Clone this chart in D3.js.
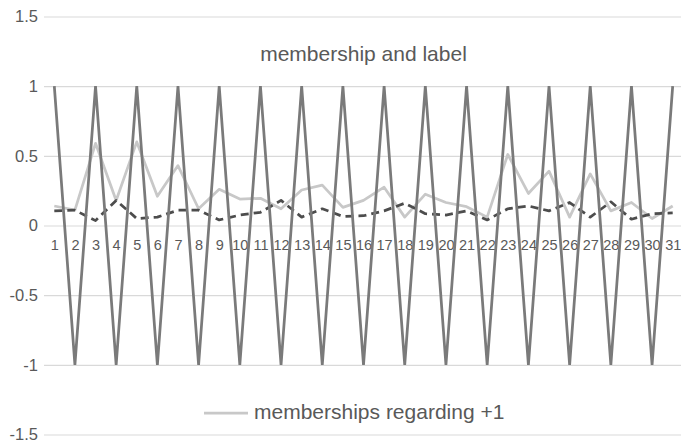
<!DOCTYPE html>
<html>
<head>
<meta charset="utf-8">
<script src="https://cdn.jsdelivr.net/npm/d3@7"></script>
<style>
  html, body { margin: 0; padding: 0; background: #fff; }
  svg { display: block; font-family: "Liberation Sans", Arial, sans-serif; }
</style>
</head>
<body>
<svg id="chart" width="681" height="443"></svg>
<script>
// Sample indices 1..31
const categories = d3.range(1, 32).map(String);

// Class label of each sample (+1 / -1)
const labelValues = [1, -1, 1, -1, 1, -1, 1, -1, 1, -1, 1, -1, 1, -1, 1, -1,
                     1, -1, 1, -1, 1, -1, 1, -1, 1, -1, 1, -1, 1, -1, 1];

// Membership degree with respect to class +1
const membershipPos = [0.14, 0.11, 0.59, 0.18, 0.60, 0.21, 0.43, 0.12, 0.26, 0.19,
                       0.195, 0.12, 0.255, 0.29, 0.13, 0.18, 0.275, 0.06, 0.225, 0.165,
                       0.135, 0.06, 0.51, 0.23, 0.39, 0.06, 0.37, 0.105, 0.165, 0.05, 0.14];

// Membership degree with respect to class -1
const membershipNeg = [0.105, 0.11, 0.035, 0.18, 0.05, 0.06, 0.11, 0.11, 0.04, 0.075,
                       0.095, 0.18, 0.06, 0.12, 0.065, 0.07, 0.105, 0.16, 0.085, 0.075,
                       0.105, 0.04, 0.12, 0.14, 0.105, 0.165, 0.06, 0.17, 0.045, 0.085, 0.09];

const yTicks = [-1.5, -1, -0.5, 0, 0.5, 1, 1.5];

const svg = d3.select("#chart");
const plotLeft = 44, plotRight = 683, plotTop = 16.5, plotBottom = 434.5;

const x = d3.scalePoint().domain(categories).range([plotLeft, plotRight]).padding(0.5);
const y = d3.scaleLinear().domain([-1.5, 1.5]).range([plotBottom, plotTop]);

// Horizontal gridlines and value labels
const yAxis = d3.axisLeft(y).tickValues(yTicks).tickSize(-(plotRight - plotLeft)).tickPadding(6)
  .tickFormat(d => String(d));
const gy = svg.append("g").attr("transform", `translate(${plotLeft},0)`).call(yAxis);
gy.select(".domain").remove();
gy.selectAll(".tick line").attr("stroke", "#d9d9d9").attr("stroke-width", 1.2);
gy.selectAll(".tick text").attr("fill", "#595959").style("font-size", "16.5px")
  .style("font-family", "'Liberation Sans', Arial, sans-serif");

// Category labels along the zero line
const xAxis = d3.axisBottom(x).tickSize(0).tickPadding(14);
const gx = svg.append("g").attr("transform", `translate(0,${y(0)})`).call(xAxis);
gx.select(".domain").remove();
gx.selectAll(".tick text").attr("fill", "#595959").style("font-size", "14.5px")
  .style("font-family", "'Liberation Sans', Arial, sans-serif");

const line = d3.line().x((d, i) => x(categories[i])).y(d => y(d));

svg.append("path").datum(membershipPos)
  .attr("d", line).attr("fill", "none")
  .attr("stroke", "#c8c8c8").attr("stroke-width", 2.75).attr("stroke-linejoin", "round");

svg.append("path").datum(membershipNeg)
  .attr("d", line).attr("fill", "none")
  .attr("stroke", "#4d4d4d").attr("stroke-width", 2.75)
  .attr("stroke-dasharray", "8,5").attr("stroke-linejoin", "round");

svg.append("path").datum(labelValues)
  .attr("d", line).attr("fill", "none")
  .attr("stroke", "#7a7a7a").attr("stroke-width", 2.75).attr("stroke-linejoin", "miter")
  .attr("stroke-miterlimit", 2);

// Title
svg.append("text").attr("x", (plotLeft + plotRight) / 2).attr("y", 61).attr("text-anchor", "middle")
  .attr("fill", "#595959").style("font-size", "21px").text("membership and label");

// Legend
const legendY = 413;
const lg = svg.append("g");
lg.append("line").attr("x1", 204).attr("x2", 248).attr("y1", legendY).attr("y2", legendY)
  .attr("stroke", "#c8c8c8").attr("stroke-width", 2.75);
lg.append("text").attr("x", 254).attr("y", legendY + 6)
  .attr("fill", "#595959").style("font-size", "21px").text("memberships regarding +1");
</script>
</body>
</html>
